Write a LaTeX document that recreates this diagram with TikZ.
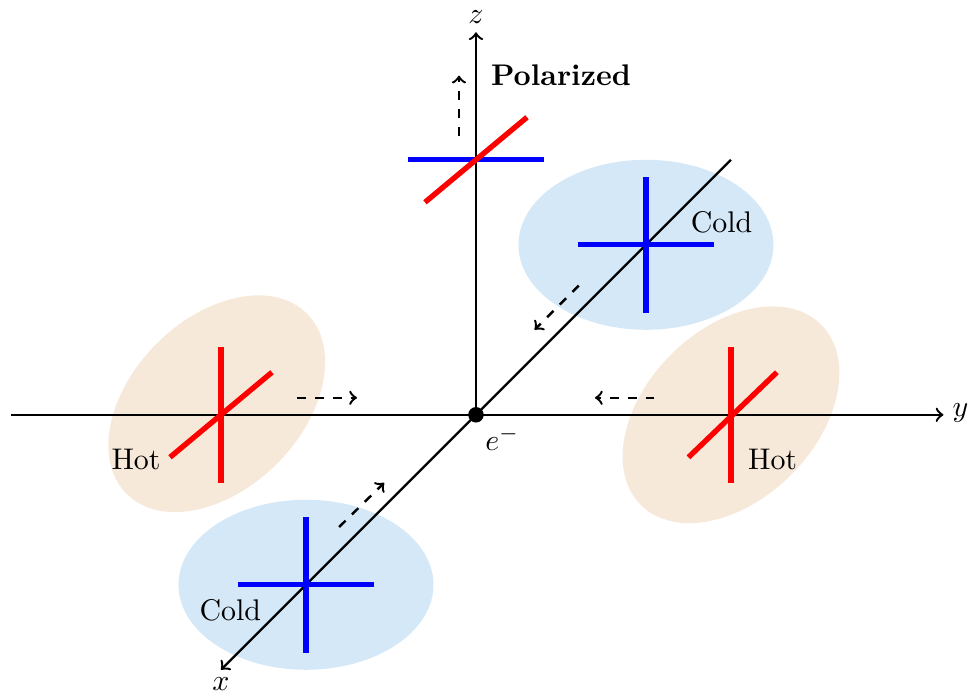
\documentclass[tikz,border=0pt]{standalone}
\usetikzlibrary{shapes.geometric}
\definecolor{coldfill}{RGB}{213,232,247}
\definecolor{hotfill}{RGB}{247,233,217}
\begin{document}
\begin{tikzpicture}[
		axis/.style={black, thick, ->},
		drift/.style={black, thick, dashed, ->},
		arm/.style={line width=1.8pt},
		lobe/.style={ellipse, draw=none, inner sep=0pt, minimum width=3cm, minimum height=2cm},
		coldlobe/.style={lobe, fill=coldfill},
		hotlobe/.style={lobe, fill=hotfill, rotate=45},
		tag/.style={inner sep=0pt}]
	\useasboundingbox (-5.6,-3.284) rectangle (5.824,4.88);

	% Lobes behind the axes.
	\foreach \p in {(2,2),(-2,-2)} {
		\node[coldlobe] at \p {};
	}
	\foreach \p in {(3,0),(-3.05,0.13)} {
		\node[hotlobe] at \p {};
	}

	% Axes and the electron.
	\coordinate (left) at (-5.47,0);
	\coordinate (right) at (5.5,0);
	\coordinate (back) at (3,3);
	\coordinate (front) at (-3,-3);
	\coordinate (origin) at (0,0);
	\coordinate (top) at (0,4.5);
	\draw[axis] (left) -- (right);
	\draw[axis] (back) -- (front);
	\draw[axis] (origin) -- (top);
	\fill (origin) circle (2.6pt);

	% Crosses on the cold lobes.
	\foreach \x/\y in {2/2,-2/-2} {
		\draw[arm, blue] (\x-0.8,\y) -- (\x+0.8,\y);
		\draw[arm, blue] (\x,\y-0.8) -- (\x,\y+0.8);
	}
	% Crosses on the hot lobes.
	\draw[arm, red] (3,-0.8) -- (3,0.8);
	\draw[arm, red] (2.5,-0.5) -- (3.54,0.5);
	\draw[arm, red] (-3,-0.8) -- (-3,0.8);
	\draw[arm, red] (-3.6,-0.5) -- (-2.4,0.5);
	% Polarized cross.
	\draw[arm, blue] (-0.8,3) -- (0.8,3);
	\draw[arm, red] (-0.6,2.5) -- (0.6,3.5);

	% Drift arrows.
	\draw[drift] (-2.1,0.2) -- (-1.4,0.2);
	\draw[drift] (2.1,0.2) -- (1.4,0.2);
	\draw[drift] (-0.2,3.28) -- (-0.2,3.99);
	\draw[drift] (1.21,1.52) -- (0.69,1);
	\draw[drift] (-1.61,-1.32) -- (-1.08,-0.8);

	% Labels.
	\node[tag] (zlabel) at (0,4.68) {$z$};
	\node[tag] (ylabel) at (5.7,0.02) {$y$};
	\node[tag] (xlabel) at (-3,-3.17) {$x$};
	\node[tag] (elabel) at (0.31,-0.28) {$e^-$};
	\node[tag] (poltext) at (1,3.99) {\textbf{Polarized}};
	\node[tag] (coldback) at (2.89,2.27) {Cold};
	\node[tag] (coldfront) at (-2.89,-2.3) {Cold};
	\node[tag] (hotright) at (3.49,-0.52) {Hot};
	\node[tag] (hotleft) at (-4,-0.52) {Hot};
\end{tikzpicture}
\end{document}
